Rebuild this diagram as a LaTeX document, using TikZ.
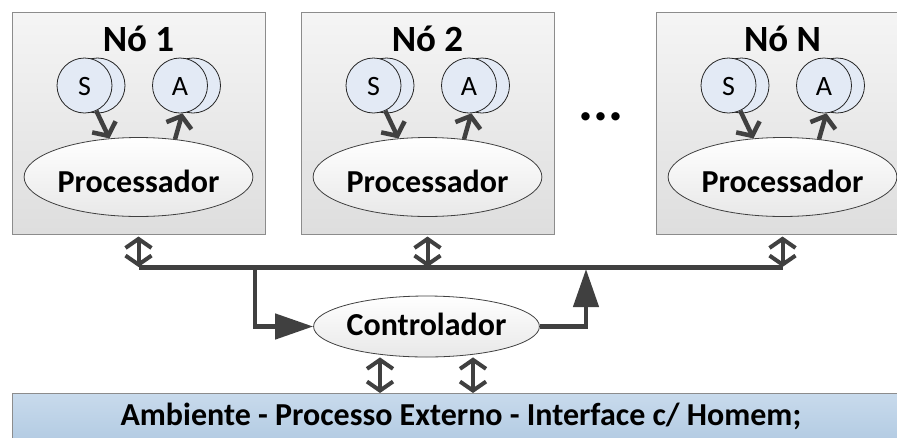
\documentclass[tikz,border=0pt]{standalone}
\usepackage{fontspec}
\setmainfont{Carlito}
\usetikzlibrary{arrows.meta,shapes.geometric,positioning}
\definecolor{ink}{RGB}{64,64,64}
\definecolor{frame}{RGB}{140,140,140}
\definecolor{bubble}{RGB}{227,234,245}
\definecolor{envtop}{RGB}{200,218,236}
\definecolor{envbot}{RGB}{180,204,227}
\tikzset{
  nodebox/.style={draw=frame, line width=1pt, top color=black!4, bottom color=black!13,
              minimum width=253pt, minimum height=222pt, inner sep=0pt},
  title/.style={font=\fontsize{37}{42}\selectfont\bfseries, inner sep=0pt, anchor=base},
  bubble/.style={circle, draw=black!85, line width=0.8pt, fill=bubble, minimum size=55pt,
              inner sep=0pt, font=\fontsize{28}{32}\selectfont, text height=20pt, text depth=0pt},
  cpu/.style={ellipse, draw=ink, line width=0.8pt, top color=white, bottom color=black!9,
              minimum width=223pt, minimum height=79pt, inner sep=0pt,
              font=\fontsize{32}{36}\selectfont\bfseries, text height=31pt, text depth=0pt},
  flow/.style={ink, line width=4.5pt, -{Straight Barb[length=10pt,width=26pt,line width=4.5pt]}},
  link/.style={ink, line width=4pt, {Straight Barb[length=9pt,width=26pt,line width=4pt]}-{Straight Barb[length=9pt,width=26pt,line width=4pt]}},
  bus/.style={ink, line width=5pt},
  feed/.style={ink, line width=4.5pt, -{Triangle[length=38pt,width=25pt]}},
}

\begin{document}
\begin{tikzpicture}[x=1pt,y=-1pt]
    \useasboundingbox (0,0) rectangle (897,437);
    \clip (0,0) rectangle (897,437);
    % node 1
    \node[nodebox] (no1) at (138.5,123) {};
    \node[title] (tit1) at (138.5,51) {Nó 1};
    \node[bubble] (s1b) at (97.5,85.5) {};
    \node[bubble] (s1) at (84.5,85.5) {S};
    \node[bubble] (a1b) at (193,85.5) {};
    \node[bubble] (a1) at (180,85.5) {A};
    \node[cpu] (proc1) at (138.5,177) {Processador};
    \draw[flow] (s1.-65) -- (proc1.127);
    \draw[flow] (proc1.46) -- (a1.-85);
    % node 2
    \node[nodebox] (no2) at (427.5,123) {};
    \node[title] (tit2) at (427.5,51) {Nó 2};
    \node[bubble] (s2b) at (386.5,85.5) {};
    \node[bubble] (s2) at (373.5,85.5) {S};
    \node[bubble] (a2b) at (482,85.5) {};
    \node[bubble] (a2) at (469,85.5) {A};
    \node[cpu] (proc2) at (427.5,177) {Processador};
    \draw[flow] (s2.-65) -- (proc2.127);
    \draw[flow] (proc2.46) -- (a2.-85);
    % node N
    \node[nodebox] (non) at (782.5,123) {};
    \node[title] (titn) at (782.5,51) {Nó N};
    \node[bubble] (snb) at (741.5,85.5) {};
    \node[bubble] (sn) at (728.5,85.5) {S};
    \node[bubble] (anb) at (837,85.5) {};
    \node[bubble] (an) at (824,85.5) {A};
    \node[cpu] (procn) at (782.5,177) {Processador};
    \draw[flow] (sn.-65) -- (procn.127);
    \draw[flow] (procn.46) -- (an.-85);
    \node[font=\fontsize{56}{60}\selectfont\bfseries, inner sep=0pt, anchor=base] (dots) at (601,120) {...};
    % bus and controller
    \coordinate (b1) at (138.5,267);
    \coordinate (b2) at (427.5,267);
    \coordinate (bn) at (782.5,267);
    \coordinate (j1) at (255,267);
    \coordinate (j2) at (586,269);
    \draw[bus] (b1) -- (bn);
    \draw[link, shorten <=2pt] (no1.south) -- (b1);
    \draw[link, shorten <=2pt] (no2.south) -- (b2);
    \draw[link, shorten <=2pt] (non.south) -- (bn);
    \node[cpu, minimum height=61pt, text height=17pt] (ctrl) at (426.5,326.5) {Controlador};
    \draw[feed] (j1) |- (ctrl);
    \draw[feed] (ctrl) -| (j2);
    \node[draw=frame, line width=1pt, top color=envtop, bottom color=envbot, anchor=north west,
          minimum width=897pt, minimum height=45pt, inner sep=0pt,
          font=\fontsize{32}{36}\selectfont\bfseries, text height=19pt, text depth=0pt]
      (env) at (12,393) {Ambiente - Processo Externo - Interface c/ Homem;};
    \draw[link] ([xshift=-46.5pt]ctrl.south) -- ([xshift=-46.5pt]ctrl.south |- env.north);
    \draw[link] ([xshift=46.5pt]ctrl.south) -- ([xshift=46.5pt]ctrl.south |- env.north);
  \end{tikzpicture}
\end{document}
